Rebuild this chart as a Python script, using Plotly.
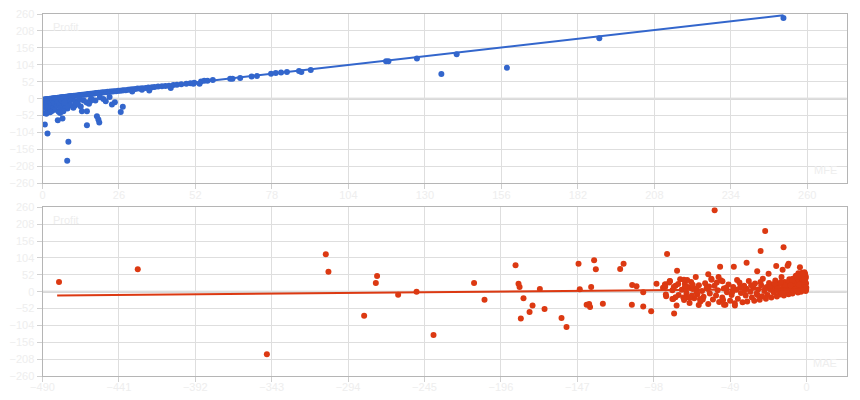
import plotly.graph_objects as go

# ---------------- data: top chart (MFE vs Profit) ----------------
top_line_mfe = [0.3, 0.8, 1.2, 1.6, 2.1, 2.5, 3.0, 3.4, 3.9, 4.3, 4.8, 5.2, 5.7, 6.1, 6.6, 7.0,
                7.5, 8.0, 8.4, 8.9, 9.3, 9.8, 10.3, 10.7, 11.2, 11.7, 12.1, 12.6, 13.0, 13.5,
                14.0, 14.4, 14.9, 15.4, 15.8, 16.3, 16.8, 17.2, 17.7, 18.2, 18.6, 19.1, 19.6,
                20.1, 20.5, 21.0, 21.6, 22.1, 22.7, 23.2, 23.8, 24.4, 25.0, 25.7, 26.3, 27.0,
                27.6, 28.3, 29.1, 29.8, 30.6, 31.5, 32.3, 33.2, 34.0, 35.1, 36.0, 37.2, 38.1,
                39.3, 40.6, 41.8, 43.0, 44.5, 45.7, 47.2, 48.9, 50.3, 51.6, 53.4, 53.9, 55.0,
                56.1, 57.9, 63.8, 64.6, 67.2, 71.1, 72.9, 77.7, 79.3, 81.1, 83.1, 87.2, 88.0,
                91.2, 116.8, 117.6, 127.3, 140.8, 189.3, 251.9]
top_line_profit = [-3, -2, -2, -1, -1, 0, 0, 1, 1, 2, 2, 3, 3, 4, 4, 5,
                   5, 6, 6, 7, 7, 8, 8, 9, 9, 10, 10, 11, 11, 12,
                   12, 13, 13, 14, 14, 15, 15, 16, 16, 17, 17, 18, 18,
                   19, 19, 20, 20, 21, 21, 22, 22, 23, 23, 24, 24, 25,
                   26, 26, 27, 28, 29, 30, 31, 31, 32, 33, 34, 35, 36,
                   37, 38, 39, 40, 42, 43, 44, 46, 47, 49, 45.9, 52.9, 55.0,
                   55.0, 57.2, 61.2, 61.2, 63.3, 68.2, 69.4, 76.5, 78.6, 80.4, 81.7, 84.7, 82.0,
                   87.7, 114.5, 114.5, 123.6, 136.0, 185.2, 247.6]

top_low_mfe = [0.3, 0.5, 0.8, 1.0, 1.2, 1.5, 1.8, 2.0, 2.2, 2.5, 2.8, 3.0, 3.2, 3.5, 3.8, 4.0,
               4.3, 4.6, 4.9, 5.2, 5.5, 5.8, 6.2, 6.5, 6.9, 7.3, 7.7, 8.1, 8.5, 9.0, 9.5, 10.0,
               10.5, 11.0, 12.0, 12.5, 13.0, 14.0, 15.0, 16.5, 18.0, 19.5, 0.4, 1.3, 2.6, 0.8,
               1.7, 8.8, 8.4, 5.2, 6.8, 15.1, 18.5, 19.0, 19.3, 13.4, 15.1, 26.6, 27.3, 24.6,
               23.6, 21.5, 22.8, 20.7, 16.2, 16.9, 15.8, 11.1, 11.5, 8.3, 7.1, 6.0, 7.5,
               36.3, 43.6, 51.3, 30.5, 33.8, 135.6, 157.9]
top_low_profit = [-4, -12, -20, -28, -8, -16, -34, -24, -3, -12, -30, -20, -38, -6, -26, -14,
                  -34, -2, -22, -10, -40, -18, -28, -6, -36, -15, -24, -4, -30, -12, -20, -2,
                  -28, -8, -14, -2, -24, -6, -12, 0, -6, 4, -44, -46, -42, -79.5,
                  -107, -132.5, -190.5, -66.4, -61.2, -81.6, -54, -64.2, -73.4, -38.8, -38.8, -40.7, -24.5, -11.3,
                  -18.3, -8.3, 5.2, -1, -8.3, -3, -15.3, -21.4, -15.3, -23.5, -38.8, -43.8, -11.3,
                  25.4, 32.7, 45.9, 22, 27, 75.4, 94.8]

top_trend_mfe = [0.2, 251.9]
top_trend_profit = [-4, 256]

# ---------------- data: bottom chart (MAE vs Profit) ----------------
bot_cluster_mae = [-0.5, -0.8, -1.0, -0.3, -1.2, -0.6, -1.5, -0.9, -2.0, -2.5, -1.8, -2.2, -3.0, -2.7,
                   -3.5, -3.8, -4.2, -3.3, -4.6, -5.0, -5.5, -5.8, -6.0, -6.5, -4.0, -7.0, -7.4, -8.0,
                   -8.5, -9.0, -9.5, -10.0, -10.6, -11.0, -11.5, -12.0, -12.5, -13.0, -14.0, -14.5,
                   -15.0, -15.5, -16.0, -17.0, -17.5, -18.0, -19.0, -19.5, -20.0, -21.0, -22.0, -22.5,
                   -23.0, -24.0, -25.0, -25.5, -26.0, -27.0, -28.0, -28.5, -29.0, -30.0, -31.0, -32.0,
                   -33.0, -33.5, -34.0, -35.0, -36.0, -37.0, -38.0, -38.5, -39.0, -40.0, -41.0, -42.0,
                   -43.0, -44.0, -45.0, -46.0, -47.0, -48.0, -49.0, -50.0, -51.0, -52.0, -53.0, -54.0,
                   -55.0, -56.0, -57.0, -58.0, -59.0, -60.0, -61.0, -62.0, -63.0, -64.0, -65.0, -66.0,
                   -67.0, -68.0, -69.0, -70.0, -71.0, -72.0, -73.0, -74.0, -75.0, -76.0, -77.0, -78.0,
                   -79.0, -80.0, -81.0, -82.0, -84.0, -86.0, -88.0, -90.0, -92.0,
                   -1.3, -2.8, -5.2, -0.4, -2.3, -6.8, -8.8, -3.1, -4.8, -7.7, -6.2, -9.8, -11.8, -13.4,
                   -16.4, -18.8, -20.6, -23.5, -26.5, -29.5, -31.5, -35.5, -39.5, -42.5, -44.5, -47.5,
                   -51.5, -53.5, -57.5, -62.5, -66.5, -70.5, -73.5, -76.5, -78.5,
                   -90.8, -87.6, -90.2, -78.6, -78.0, -73.0, -70.5, -86.0, -77.0, -75.0, -68.3,
                   -63.3, -60.9, -56.4, -53.9,
                   -0.2, -1.1, -1.7, -2.4, -3.6, -0.7, -4.4, -5.6, -2.9, -6.4, -1.9, -7.2, -3.9, -8.2,
                   -0.1, -1.4, -2.6, -4.9, -5.9, -9.2, -10.3, -12.8, -15.8, -18.4]
bot_cluster_profit = [2, 10, 18, 25, 33, 41, 48, 55, 5, 14, 22, 30, 38, 45,
                      0, 9, 17, 27, 35, 42, -3, 6, 13, 24, 52, 31, 2, 10,
                      19, -6, 28, 5, 14, 38, -8, 22, 1, 9, 30, -12,
                      16, 4, 45, -9, 24, 8, -15, 12, 34, -3, 18, -18,
                      6, 27, -10, 14, -22, 2, 40, -14, 20, -25, 7, -6,
                      25, -28, 12, -18, 0, 33, -30, 9, -12, 18, -33, -4,
                      28, -22, 6, -36, 14, -10, -28, 22, -2, -40, 10, -18,
                      35, -32, 4, -12, 18, -24, 40, -6, -38, 12, 26, -16,
                      2, -30, 20, -8, 45, -20, 8, 30, -35, 14, -4, 24,
                      -18, 6, 38, -10, 18, 4, 28, -14, 12,
                      60, 58, 57, 46, 50, 49, 40, 19, 28, 20, 37, 15, 28, 18,
                      30, 2, 24, 12, 8, 30, -10, 20, 4, 14, 36, 0,
                      12, -26, 28, 16, -24, 10, -12, 36, -26,
                      21.6, 31.8, -9, 37, 14.5, 21.6, -2, -22.5, -17.5, -19.4, -22.5,
                      8, 37, 45, 31.8,
                      6, 14, 26, 36, 21, 30, 12, 3, 44, 16, 4, 8, 48, 26,
                      12, 38, 54, 21, 46, 33, 20, 5, -4, 10]

bot_sparse_mae = [-19.4, -11.5, -12.1, -15.3, -4.2, -31.6, -24.3, -63.0, -55.4, -46.6, -38.4, -14.7,
                  -29.4, -26.5, -58.9, -83.0, -84.9, -83.3, -85.5, -84.0, -52.9, -45.9, -69.1,
                  -89.4, -87.6, -85.1, -82.3, -90.6, -90.6, -96.2, -99.6, -104.7, -104.7, -109.0,
                  -111.8, -112.0, -117.3, -119.5, -130.6, -141.0, -139.4, -138.8, -138.1, -135.1,
                  -136.2, -145.4, -146.2, -153.9, -157.1, -168.0, -171.0, -175.7, -177.6, -183.2,
                  -181.5, -184.0, -184.7, -186.6, -206.5, -213.2, -239.2, -250.1, -261.9, -275.4,
                  -276.2, -283.7, -306.6, -308.3, -346.1, -428.9, -479.4]
bot_sparse_profit = [79, 86, 80, 67.8, 75, 62.6, 55.5, 53.3, 77, 77, 89.4, 136.6,
                     125.5, 187, 250.6, 64.7, -67, -43, -22.5, -17.5, -40, -43, -41,
                     116, 33, 14.5, 23.7, 22.5, 15.4, 24.7, -60.7, -2, -46, 16.3,
                     20.6, -40, 86.3, 70, -37, -40, -38, -47, 14.5, 68.7,
                     96.5, 7.1, 86.3, -108.8, -81, -53.4, 8.3, -43, -62.6, -83,
                     -20.6, 14.5, 24.7, 81, -24.7, 26.8, -133.6, 0, -9.2, 48.3,
                     26.8, -74, 61.7, 115, -193, 68.7, 29.9]

bot_trend_mae = [-480.6, 0.0]
bot_trend_profit = [-11.5, 8.5]

y_ticks = [-260, -208, -156, -104, -52, 0, 52, 104, 156, 208, 260]
top_x_ticks = [0, 26, 52, 78, 104, 130, 156, 182, 208, 234, 260]
bot_x_ticks = [-490, -441, -392, -343, -294, -245, -196, -147, -98, -49, 0]

BLUE = "#3366cc"
RED = "#dc3912"
TXT = "#eeeeee"
GRID = "#dedede"
FONT = "Liberation Sans, Arial"

# full-window figure; the page body margin is removed by a small post script
W, H = 860, 400


def xd(a, b):
    return [a / W, b / W]


def yd(top, bottom):
    return [1 - bottom / H, 1 - top / H]


fig = go.Figure()
fig.add_trace(go.Scatter(x=top_line_mfe + top_low_mfe, y=top_line_profit + top_low_profit,
                         mode="markers", marker=dict(color=BLUE, size=6),
                         xaxis="x", yaxis="y", showlegend=False))
fig.add_trace(go.Scatter(x=top_trend_mfe, y=top_trend_profit, mode="lines",
                         line=dict(color=BLUE, width=2), xaxis="x", yaxis="y", showlegend=False))
fig.add_trace(go.Scatter(x=bot_cluster_mae + bot_sparse_mae, y=bot_cluster_profit + bot_sparse_profit,
                         mode="markers", marker=dict(color=RED, size=6),
                         xaxis="x2", yaxis="y2", showlegend=False))
fig.add_trace(go.Scatter(x=bot_trend_mae, y=bot_trend_profit, mode="lines",
                         line=dict(color=RED, width=2), xaxis="x2", yaxis="y2", showlegend=False))

common_axis = dict(showgrid=True, gridcolor=GRID, gridwidth=1, showline=True, linecolor="#b5b5b5",
                   linewidth=1, mirror=True, ticks="outside", ticklen=5, tickcolor="#d0d0d0",
                   tickfont=dict(family=FONT, size=11, color=TXT), automargin=False,
                   zeroline=False, fixedrange=True)

fig.update_layout(
    template="none",
    width=W, height=H, autosize=False,
    margin=dict(l=0, r=0, t=0, b=0, pad=0),
    paper_bgcolor="white", plot_bgcolor="white",
    xaxis=dict(domain=xd(42.5, 846.7), anchor="y", range=[0, 273.4], tickvals=top_x_ticks,
               ticklabelstandoff=-4, **common_axis),
    yaxis=dict(domain=yd(14, 183.3), anchor="x", range=[-260, 260], tickvals=y_ticks, **common_axis),
    xaxis2=dict(domain=xd(42.5, 846.7), anchor="y2", range=[-490, 25.8], tickvals=bot_x_ticks,
                ticklabelstandoff=-4, **common_axis),
    yaxis2=dict(domain=yd(207.3, 376), anchor="x2", range=[-260, 260], tickvals=y_ticks, **common_axis),
    shapes=[
        dict(type="line", xref="x domain", yref="y", x0=0, x1=1, y0=0, y1=0,
             line=dict(color="#cccccc", width=2), layer="below"),
        dict(type="line", xref="x2 domain", yref="y2", x0=0, x1=1, y0=0, y1=0,
             line=dict(color="#cccccc", width=2), layer="below"),
    ],
    annotations=[
        dict(text="Profit", xref="x domain", yref="y domain", x=0.01, y=0.97, xanchor="left",
             yanchor="top", showarrow=False, font=dict(family=FONT, size=11, color=TXT)),
        dict(text="MFE", xref="x domain", yref="y domain", x=0.99, y=0.03, xanchor="right",
             yanchor="bottom", showarrow=False, font=dict(family=FONT, size=11, color=TXT)),
        dict(text="Profit", xref="x2 domain", yref="y2 domain", x=0.01, y=0.97, xanchor="left",
             yanchor="top", showarrow=False, font=dict(family=FONT, size=11, color=TXT)),
        dict(text="MAE", xref="x2 domain", yref="y2 domain", x=0.99, y=0.03, xanchor="right",
             yanchor="bottom", showarrow=False, font=dict(family=FONT, size=11, color=TXT)),
    ],
)

fig.write_html("out.html", config={"displayModeBar": False},
               post_script="document.body.style.margin='0';document.body.style.overflow='hidden';")
